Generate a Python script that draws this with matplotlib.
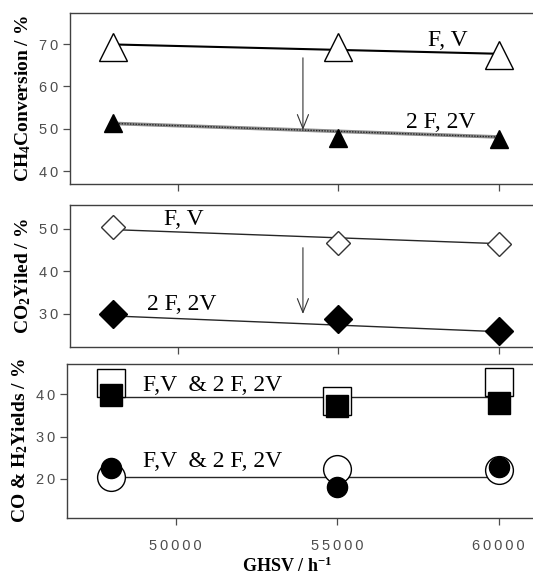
import matplotlib
matplotlib.use("Agg")
import matplotlib.pyplot as plt
from matplotlib.ticker import FixedLocator, FixedFormatter

plt.rcParams['font.family'] = ['Liberation Sans', 'DejaVu Sans']
plt.rcParams['mathtext.fontset'] = 'custom'
plt.rcParams['mathtext.rm'] = 'Liberation Serif'
plt.rcParams['mathtext.bf'] = 'Liberation Serif:bold'
plt.rcParams['mathtext.it'] = 'Liberation Serif:italic'

# GHSV values
ghsv = [48000, 55000, 60000]
fit_x = [48000, 60000]

# CH4 conversion (%)
ch4_fv = [69.3, 69.3, 67.4]
ch4_2f2v = [51.4, 47.9, 47.7]
ch4_fv_fit = [69.9, 67.7]
ch4_2f2v_fit = [51.3, 48.1]

# CO2 yield (%)
co2_fv = [50.5, 46.7, 46.5]
co2_2f2v = [30.0, 28.8, 25.9]
co2_fv_fit = [49.8, 46.5]
co2_2f2v_fit = [29.5, 25.8]

# CO & H2 yields (%)
co_fv = [42.6, 38.4, 42.8]
co_2f2v = [39.8, 37.2, 37.9]
co_fit = [39.3, 39.3]
h2_fv = [20.5, 22.4, 22.1]
h2_2f2v = [22.6, 18.1, 22.8]
h2_fit = [20.5, 20.5]

xticks = [50000, 55000, 60000]
yticks1 = [40, 50, 60, 70]
yticks2 = [30, 40, 50]
yticks3 = [20, 30, 40]


def spaced(vals):
    # the original tick labels are letter-spaced
    return ['\u2009'.join(str(v)) for v in vals]


fig = plt.figure(figsize=(5.33, 5.79), dpi=100)
ax1 = fig.add_axes([0.131, 0.682, 0.88, 0.2955])
ax2 = fig.add_axes([0.131, 0.4007, 0.88, 0.2453])
ax3 = fig.add_axes([0.126, 0.1054, 0.885, 0.266])

serif = 'Liberation Serif'
lab_kw = dict(family=serif, fontsize=17)
ylab_kw = dict(fontweight='bold', family=serif, fontsize=14)
arrow = dict(arrowstyle='->,head_length=1.0,head_width=0.4', lw=0.8, color='0.2')

for ax in (ax1, ax2, ax3):
    ax.set_xlim(46646, 61242)
    ax.xaxis.set_major_locator(FixedLocator(xticks))
    ax.xaxis.set_major_formatter(FixedFormatter(spaced(xticks)))
    for s in ax.spines.values():
        s.set_color('0.25')
        s.set_linewidth(1.0)
    ax.tick_params(direction='out', length=5, width=0.9, color='0.3',
                   labelsize=10.5, labelcolor='0.3')

# panel 1
ax1.plot(fit_x, ch4_fv_fit, color='black', lw=1.5)
ax1.plot(fit_x, ch4_2f2v_fit, color='0.55', lw=2.6)
ax1.plot(fit_x, ch4_2f2v_fit, color='0.15', lw=1.0, ls=(0, (1, 1)))
ax1.plot(ghsv, ch4_fv, ls='none', marker='^', ms=20, mfc='white', mec='black', mew=1.0)
ax1.plot(ghsv, ch4_2f2v, ls='none', marker='^', ms=13, mfc='black', mec='black')
ax1.set_ylim(37, 77.3)
ax1.yaxis.set_major_locator(FixedLocator(yticks1))
ax1.yaxis.set_major_formatter(FixedFormatter(spaced(yticks1)))
ax1.tick_params(axis='x', labelbottom=False)
ax1.text(58416, 70.9, 'F, V', ha='center', va='center', **lab_kw)
ax1.text(58200, 51.6, '2 F, 2V', ha='center', va='center', **lab_kw)
ax1.annotate('', xy=(53900, 49.1), xytext=(53900, 67.4), arrowprops=arrow)
ax1.set_ylabel(r'CH$_\mathbf{4}$Conversion / %', **ylab_kw)

# panel 2
ax2.plot(fit_x, co2_fv_fit, color='0.15', lw=1.0)
ax2.plot(fit_x, co2_2f2v_fit, color='0.15', lw=1.0)
ax2.plot(ghsv, co2_fv, ls='none', marker='D', ms=12.5, mfc='white', mec='0.2', mew=1.0)
ax2.plot(ghsv, co2_2f2v, ls='none', marker='D', ms=14, mfc='black', mec='black')
ax2.set_ylim(22.2, 55.6)
ax2.yaxis.set_major_locator(FixedLocator(yticks2))
ax2.yaxis.set_major_formatter(FixedFormatter(spaced(yticks2)))
ax2.tick_params(axis='x', labelbottom=False)
ax2.text(50190, 52.1, 'F, V', ha='center', va='center', **lab_kw)
ax2.text(50120, 32.1, '2 F, 2V', ha='center', va='center', **lab_kw)
ax2.annotate('', xy=(53900, 29.3), xytext=(53900, 46.2), arrowprops=arrow)
ax2.set_ylabel(r'CO$_\mathbf{2}$Yiled / %', **ylab_kw)

# panel 3
ax3.plot(fit_x, co_fit, color='0.15', lw=1.0)
ax3.plot(fit_x, h2_fit, color='0.15', lw=1.0)
ax3.plot(ghsv, co_fv, ls='none', marker='s', ms=20, mfc='white', mec='black', mew=1.0)
ax3.plot(ghsv, co_2f2v, ls='none', marker='s', ms=16.5, mfc='black', mec='black')
ax3.plot(ghsv, h2_fv, ls='none', marker='o', ms=20, mfc='white', mec='black', mew=1.0)
ax3.plot(ghsv, h2_2f2v, ls='none', marker='o', ms=14.5, mfc='black', mec='black')
ax3.set_ylim(10.8, 47.1)
ax3.yaxis.set_major_locator(FixedLocator(yticks3))
ax3.yaxis.set_major_formatter(FixedFormatter(spaced(yticks3)))
ax3.text(51150, 42.1, 'F,V  & 2 F, 2V', ha='center', va='center', **lab_kw)
ax3.text(51150, 24.0, 'F,V  & 2 F, 2V', ha='center', va='center', **lab_kw)
ax3.set_ylabel(r'CO & H$_\mathbf{2}$Yields / %', **ylab_kw)
ax3.set_xlabel(r'GHSV / h$^{\mathbf{-1}}$', fontweight='bold', family=serif,
               fontsize=13)
ax3.tick_params(axis='x', pad=10)
ax3.xaxis.set_label_coords(0.467, -0.25)

for ax in (ax1, ax2, ax3):
    ax.yaxis.set_label_coords(-0.078, 0.5)

fig.savefig('out.png', dpi=100)
